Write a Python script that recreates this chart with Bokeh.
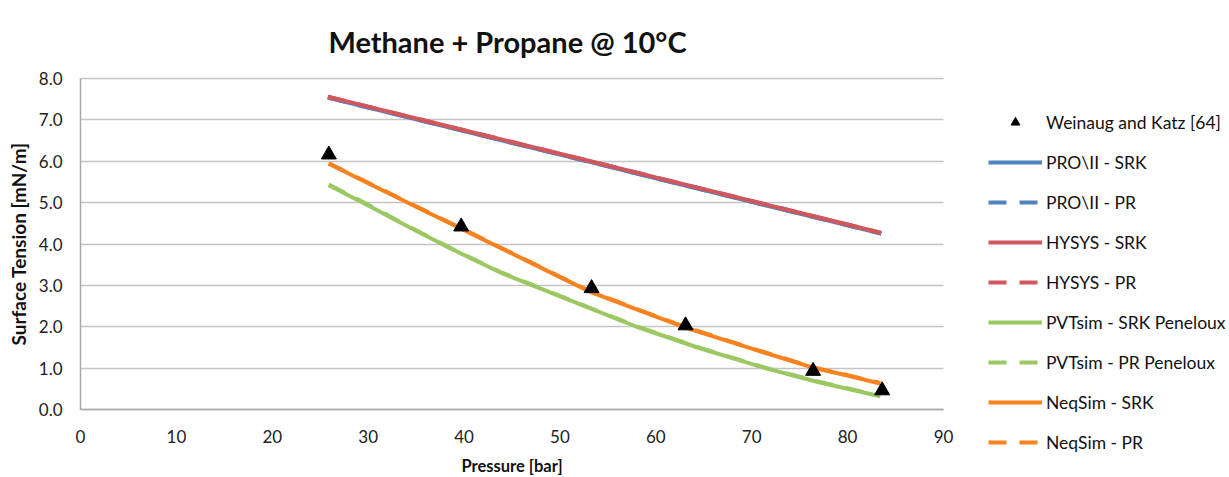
from bokeh.plotting import figure
from bokeh.models import Range1d, FixedTicker, PrintfTickFormatter, Legend, LegendItem, Label
from bokeh.embed import file_html
from bokeh.resources import INLINE

# Experimental data (Weinaug and Katz [64])
exp_p = [25.9, 39.7, 53.3, 63.1, 76.4, 83.6]
exp_st = [6.16, 4.42, 2.93, 2.03, 0.93, 0.46]

# PRO/II and HYSYS (nearly identical)
hysys_p = [25.8, 30, 40, 50, 53.2, 60, 70, 80, 83.5]
hysys_srk = [7.56, 7.32, 6.75, 6.18, 6.00, 5.61, 5.04, 4.47, 4.27]
hysys_pr = [7.56, 7.32, 6.75, 6.18, 6.00, 5.61, 5.04, 4.47, 4.27]
proii_srk = [7.54, 7.30, 6.73, 6.16, 5.98, 5.59, 5.02, 4.45, 4.25]
proii_pr = [7.54, 7.30, 6.73, 6.16, 5.98, 5.59, 5.02, 4.45, 4.25]

# PVTsim (Peneloux)
pvt_p = [25.9, 30, 34, 38.6, 43.8, 48, 53.3, 58, 64.6, 71.4, 77, 83.4]
pvt_srk = [5.42, 4.93, 4.44, 3.89, 3.31, 2.92, 2.43, 2.00, 1.48, 1.00, 0.66, 0.32]
pvt_pr = [5.44, 4.95, 4.45, 3.90, 3.32, 2.93, 2.44, 2.01, 1.49, 1.01, 0.67, 0.33]

# NeqSim
neq_p = [25.9, 30, 35, 39.7, 45, 50, 53.3, 58, 63.1, 70, 76.4, 80, 83.4]
neq_srk = [5.94, 5.47, 4.90, 4.37, 3.77, 3.20, 2.83, 2.42, 1.98, 1.47, 1.01, 0.82, 0.63]
neq_pr = [5.95, 5.48, 4.91, 4.38, 3.78, 3.21, 2.84, 2.43, 1.99, 1.48, 1.02, 0.83, 0.64]

x_ticks = [0, 10, 20, 30, 40, 50, 60, 70, 80, 90]
y_ticks = [0, 1, 2, 3, 4, 5, 6, 7, 8]
X_MIN, X_MAX = 0, 90
Y_MIN, Y_MAX = 0, 8

series_labels = ["Weinaug and Katz [64]", "PRO\\II - SRK", "PRO\\II - PR",
                 "HYSYS - SRK", "HYSYS - PR", "PVTsim - SRK Peneloux",
                 "PVTsim - PR Peneloux", "NeqSim - SRK", "NeqSim - PR"]
title_text = "Methane + Propane @ 10°C"

FONT = "Lato"
BLUE = "#4f81bd"
RED = "#d0575d"
GREEN = "#9bc862"
ORANGE = "#f7821e"
LW = 4
DASH = "18 13"

# Layout: canvas pixels of the plotting area (the frame spans the whole canvas,
# axes are pinned at x=0 / y=0 so the legend can sit freely on the right)
W, H = 1229, 477
PX_L, PX_R, PX_T, PX_B = 80, 943, 78, 409
sx = (PX_R - PX_L) / (X_MAX - X_MIN)
sy = (PX_B - PX_T) / (Y_MAX - Y_MIN)
xr = Range1d(X_MIN - PX_L / sx, X_MAX + (W - PX_R) / sx)
yr = Range1d(Y_MIN - (H - PX_B) / sy, Y_MAX + PX_T / sy)

p = figure(width=W, height=H, output_backend="svg", toolbar_location=None,
           x_range=xr, y_range=yr,
           min_border_left=0, min_border_right=0, min_border_top=0, min_border_bottom=0)
p.outline_line_color = None
p.xgrid.visible = False

grid = p.ygrid[0]
grid.grid_line_color = "#c4c4c4"
grid.grid_line_width = 1.5
grid.ticker = FixedTicker(ticks=y_ticks)
if "cross_bounds" in grid.properties():
    grid.cross_bounds = (X_MIN, X_MAX)
else:
    grid.visible = False
    p.segment(x0=[X_MIN] * len(y_ticks), x1=[X_MAX] * len(y_ticks), y0=y_ticks, y1=y_ticks,
              line_color="#c4c4c4", line_width=1.5)

for ax in (p.xaxis[0], p.yaxis[0]):
    ax.fixed_location = 0
    ax.axis_line_color = "#a8a8a8"
    ax.axis_line_width = 1.5
    ax.major_tick_line_color = None
    ax.minor_tick_line_color = None
    ax.major_tick_out = 0
    ax.major_tick_in = 0
    ax.major_label_text_font = FONT
    ax.major_label_text_font_size = "17px"
    ax.major_label_text_color = "#222222"
    ax.axis_label_text_font = FONT
    ax.axis_label_text_font_style = "bold"
    ax.axis_label_text_color = "#111111"

p.xaxis.bounds = (X_MIN, X_MAX)
p.yaxis.bounds = (Y_MIN, Y_MAX)
p.xaxis.ticker = FixedTicker(ticks=x_ticks)
p.yaxis.ticker = FixedTicker(ticks=y_ticks)
p.yaxis.formatter = PrintfTickFormatter(format="%.1f")
p.xaxis.axis_label = "Pressure [bar]"
p.yaxis.axis_label = "Surface Tension [mN/m]"
p.xaxis.axis_label_text_font_size = "16.5px"
p.yaxis.axis_label_text_font_size = "19px"
p.xaxis.major_label_standoff = 20
p.yaxis.major_label_standoff = 18
p.xaxis.axis_label_standoff = 10
p.yaxis.axis_label_standoff = 6

r_b1 = p.line(hysys_p, proii_srk, line_color=BLUE, line_width=LW)
r_b2 = p.line(hysys_p, proii_pr, line_color=BLUE, line_width=LW, line_dash=DASH)
r_r1 = p.line(hysys_p, hysys_srk, line_color=RED, line_width=LW)
r_r2 = p.line(hysys_p, hysys_pr, line_color=RED, line_width=LW, line_dash=DASH)
r_g1 = p.line(pvt_p, pvt_srk, line_color=GREEN, line_width=LW)
r_g2 = p.line(pvt_p, pvt_pr, line_color=GREEN, line_width=LW, line_dash=DASH)
r_o1 = p.line(neq_p, neq_srk, line_color=ORANGE, line_width=LW)
r_o2 = p.line(neq_p, neq_pr, line_color=ORANGE, line_width=LW, line_dash=DASH)
r_exp = p.scatter(exp_p, exp_st, marker="triangle", size=15, fill_color="black", line_color="black")

keys = [r_exp, r_b1, r_b2, r_r1, r_r2, r_g1, r_g2, r_o1, r_o2]
legend = Legend(items=[LegendItem(label=lab, renderers=[r]) for lab, r in zip(series_labels, keys)],
                location=(988, 24))
legend.padding = 0
legend.margin = 0
legend.border_line_color = None
legend.background_fill_alpha = 0
legend.glyph_width = 54
legend.glyph_height = 22
legend.label_height = 22
legend.spacing = 18
legend.label_standoff = 4
legend.label_text_font = FONT
legend.label_text_font_size = "17.5px"
legend.label_text_color = "#111111"
p.add_layout(legend, "center")

title = Label(x=507, y=H - 41, x_units="screen", y_units="screen", text=title_text,
              text_align="center", text_baseline="middle", text_font=FONT,
              text_font_size="29px", text_font_style="bold", text_color="#111111")
p.add_layout(title)

open("out.html", "w").write(file_html(p, INLINE))
